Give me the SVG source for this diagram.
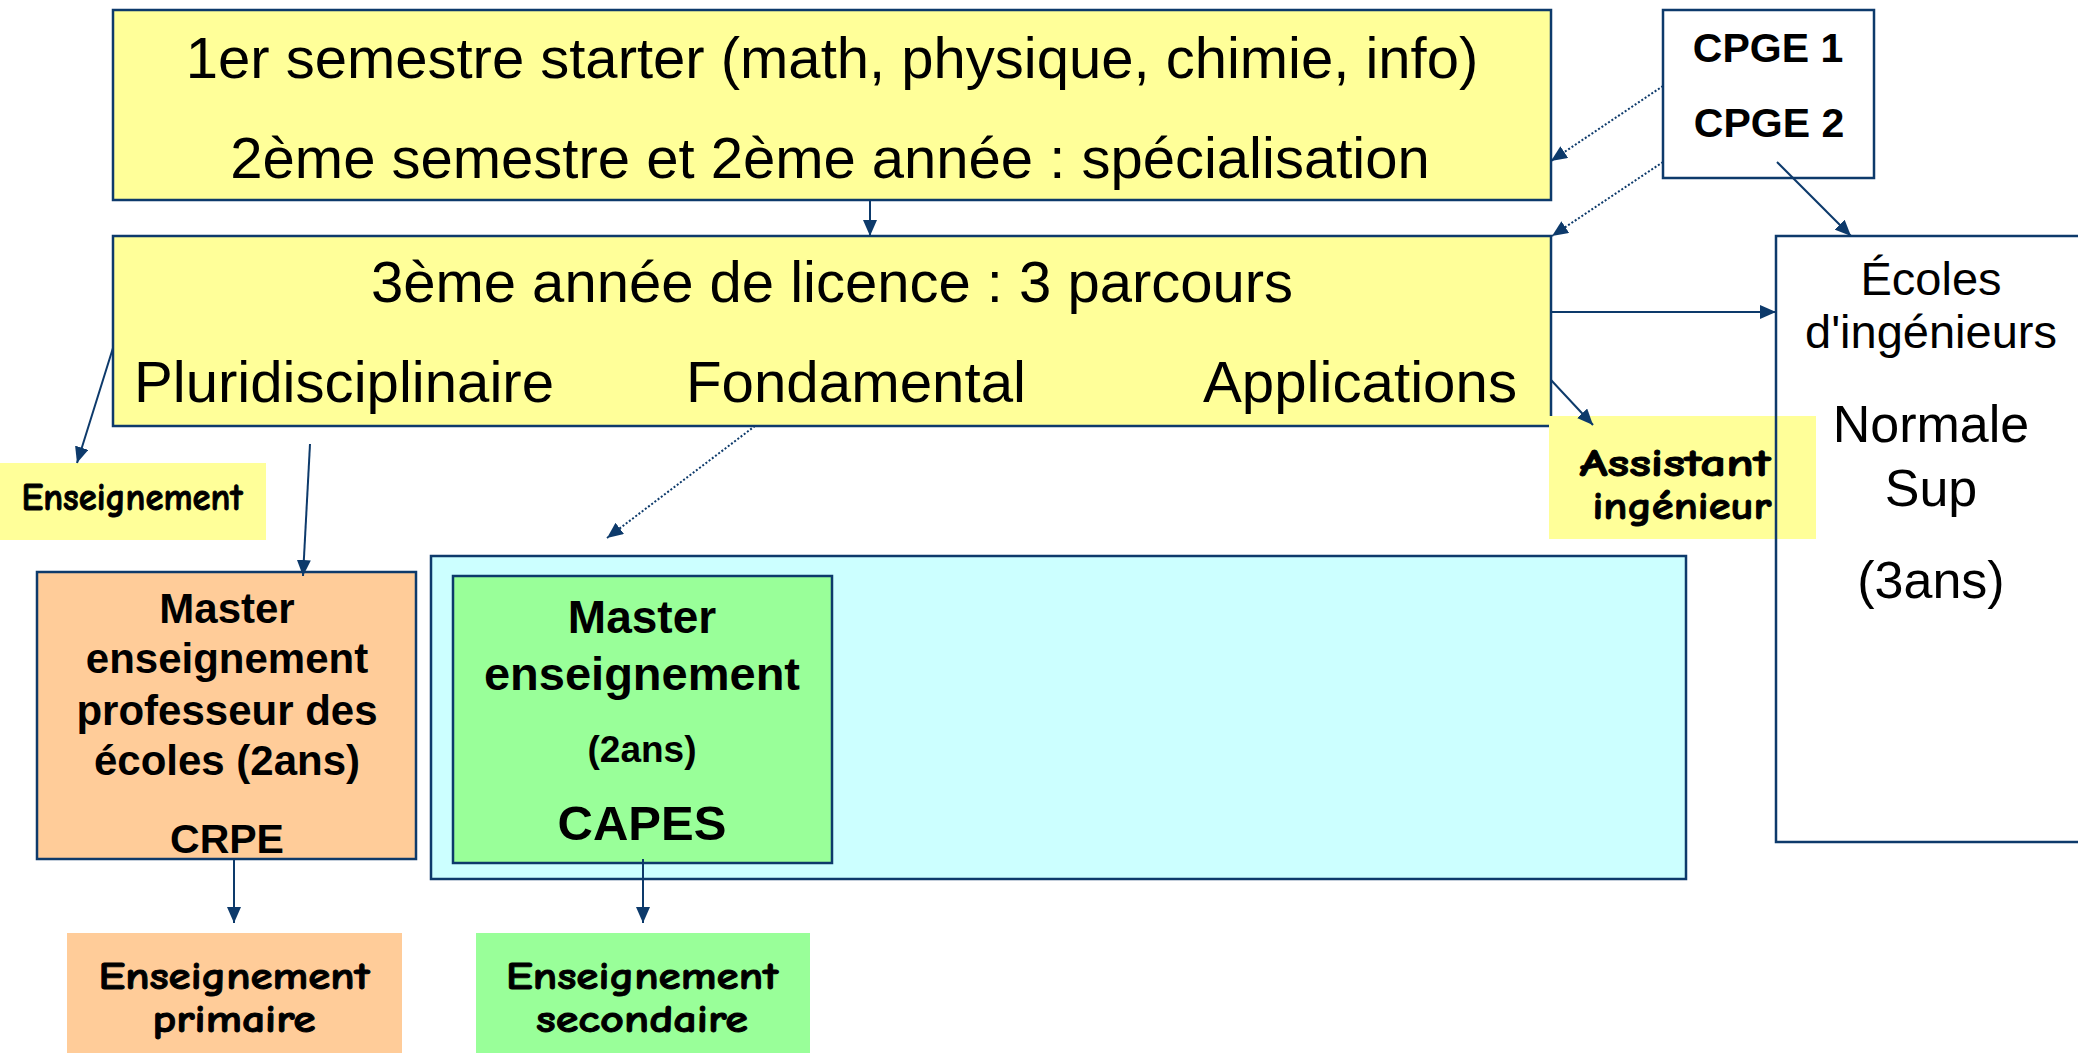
<svg xmlns="http://www.w3.org/2000/svg" width="2078" height="1053" viewBox="0 0 2078 1053">
<style>
.box{stroke:#0d3a6b;stroke-width:2.5}
.yel{fill:#FFFF99}
.ora{fill:#FFCC99}
.gre{fill:#99FF99}
.cya{fill:#CCFFFF}
.t{font-family:"Liberation Sans",Arial,sans-serif;fill:#000}
.b{font-weight:bold}
.c{font-family:"Comic Sans MS","Comic Neue","DejaVu Sans",sans-serif;font-weight:bold;fill:#000;stroke:#000;stroke-width:0.9}
.m{text-anchor:middle}
.ln{stroke:#0d3a6b;stroke-width:2;fill:none}
.dot{stroke-dasharray:2 2}
</style>
<defs>
<marker id="arr" markerUnits="userSpaceOnUse" markerWidth="16" markerHeight="14" refX="16" refY="7" orient="auto">
<path d="M0,0 L16,7 L0,14 z" fill="#0d3a6b"/>
</marker>
</defs>
<rect width="2078" height="1053" fill="#fff"/>

<g id="licence12">
<rect class="box yel" x="113" y="10" width="1438" height="190"/>
<text class="t m" x="832" y="78" font-size="58">1er semestre starter (math, physique, chimie, info)</text>
<text class="t m" x="830" y="178" font-size="58">2ème semestre et 2ème année : spécialisation</text>
</g>

<g id="licence3">
<rect class="box yel" x="113" y="236" width="1438" height="190"/>
<text class="t m" x="832" y="302" font-size="58">3ème année de licence : 3 parcours</text>
<text class="t" x="134" y="402" font-size="58" textLength="420" lengthAdjust="spacingAndGlyphs">Pluridisciplinaire</text>
<text class="t" x="686" y="402" font-size="58" textLength="340" lengthAdjust="spacingAndGlyphs">Fondamental</text>
<text class="t" x="1203" y="402" font-size="58" textLength="314" lengthAdjust="spacingAndGlyphs">Applications</text>
</g>

<g id="cpge">
<rect class="box" fill="#fff" x="1663" y="10" width="211" height="168"/>
<text class="t b m" x="1768" y="62" font-size="41">CPGE 1</text>
<text class="t b m" x="1769" y="137" font-size="41">CPGE 2</text>
</g>

<g id="enseignement">
<rect class="yel" x="0" y="463" width="266" height="77"/>
<text class="c m" x="132" y="510" font-size="38" textLength="221" lengthAdjust="spacingAndGlyphs">Enseignement</text>
</g>

<g id="assistant">
<rect class="yel" x="1549" y="416" width="267" height="123"/>
<text class="c m" x="1675" y="476" font-size="38" textLength="191" lengthAdjust="spacingAndGlyphs">Assistant</text>
<text class="c m" x="1682" y="519" font-size="38" textLength="179" lengthAdjust="spacingAndGlyphs">ingénieur</text>
</g>

<g id="ecoles">
<rect class="box" fill="none" x="1776" y="236" width="320" height="606"/>
<text class="t m" x="1931" y="295" font-size="47">Écoles</text>
<text class="t m" x="1931" y="348" font-size="47">d'ingénieurs</text>
<text class="t m" x="1931" y="442" font-size="52">Normale</text>
<text class="t m" x="1931" y="506" font-size="52">Sup</text>
<text class="t m" x="1931" y="598" font-size="52">(3ans)</text>
</g>

<g id="master-pe">
<rect class="box ora" x="37" y="572" width="379" height="287"/>
<text class="t b m" x="227" y="623" font-size="42">Master</text>
<text class="t b m" x="227" y="673" font-size="42">enseignement</text>
<text class="t b m" x="227" y="725" font-size="42">professeur des</text>
<text class="t b m" x="227" y="775" font-size="42">écoles (2ans)</text>
<text class="t b m" x="227" y="853" font-size="41">CRPE</text>
</g>

<g id="cadre-secondaire">
<rect class="box cya" x="431" y="556" width="1255" height="323"/>
</g>

<g id="master-capes">
<rect class="box gre" x="453" y="576" width="379" height="287"/>
<text class="t b m" x="642" y="633" font-size="46">Master</text>
<text class="t b m" x="642" y="690" font-size="47">enseignement</text>
<text class="t b m" x="642" y="762" font-size="37">(2ans)</text>
<text class="t b m" x="642" y="840" font-size="49">CAPES</text>
</g>

<g id="primaire">
<rect class="ora" x="67" y="933" width="335" height="130"/>
<text class="c m" x="234" y="989" font-size="38" textLength="271" lengthAdjust="spacingAndGlyphs">Enseignement</text>
<text class="c m" x="234" y="1032" font-size="38" textLength="163" lengthAdjust="spacingAndGlyphs">primaire</text>
</g>

<g id="secondaire">
<rect class="gre" x="476" y="933" width="334" height="130"/>
<text class="c m" x="642" y="989" font-size="38" textLength="272" lengthAdjust="spacingAndGlyphs">Enseignement</text>
<text class="c m" x="642" y="1032" font-size="38" textLength="212" lengthAdjust="spacingAndGlyphs">secondaire</text>
</g>

<g id="connectors">
<line class="ln" x1="870" y1="201" x2="870" y2="236" marker-end="url(#arr)"/>
<line class="ln dot" x1="1663" y1="86" x2="1551" y2="161" marker-end="url(#arr)"/>
<line class="ln dot" x1="1663" y1="162" x2="1552" y2="236" marker-end="url(#arr)"/>
<line class="ln" x1="1777" y1="162" x2="1851" y2="236" marker-end="url(#arr)"/>
<line class="ln" x1="1551" y1="312" x2="1776" y2="312" marker-end="url(#arr)"/>
<line class="ln" x1="1551" y1="380" x2="1593" y2="425" marker-end="url(#arr)"/>
<line class="ln" x1="113" y1="348" x2="77" y2="463" marker-end="url(#arr)"/>
<line class="ln" x1="310" y1="444" x2="303" y2="576" marker-end="url(#arr)"/>
<line class="ln dot" x1="755" y1="426" x2="607" y2="538" marker-end="url(#arr)"/>
<line class="ln" x1="234" y1="859" x2="234" y2="923" marker-end="url(#arr)"/>
<line class="ln" x1="643" y1="859" x2="643" y2="923" marker-end="url(#arr)"/>
</g>
</svg>
